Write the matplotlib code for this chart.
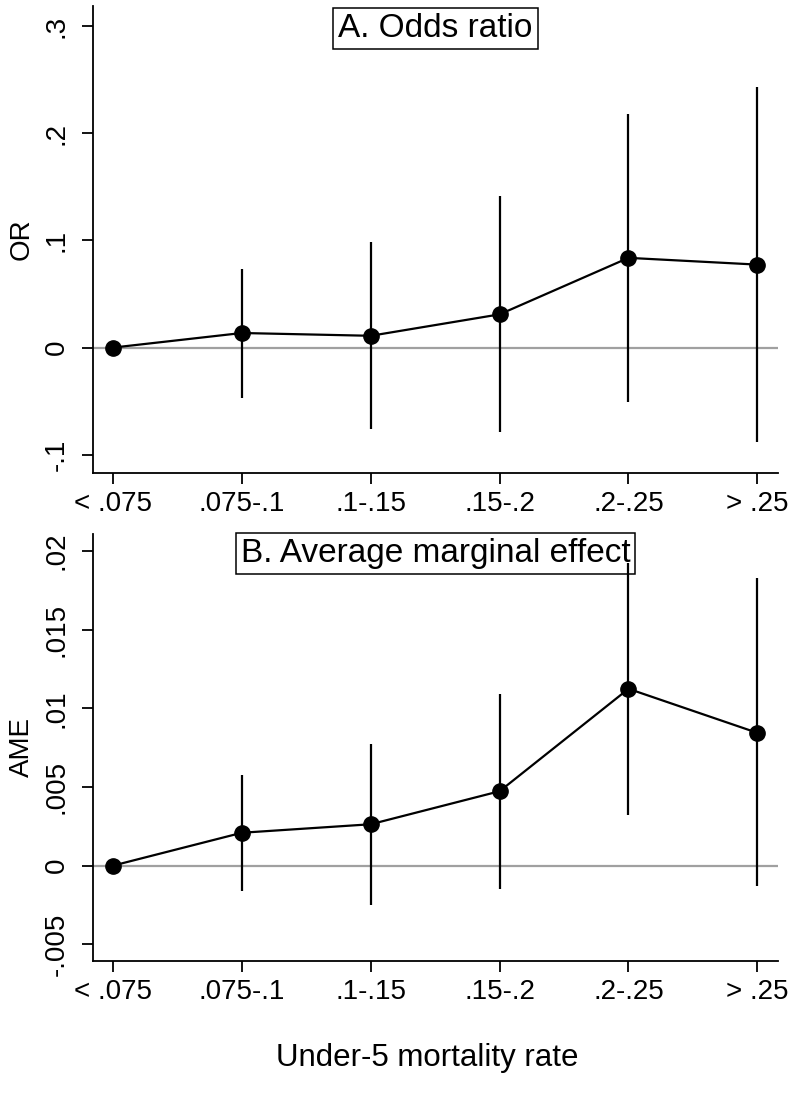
import numpy as np
import matplotlib
matplotlib.use("Agg")
import matplotlib.pyplot as plt

plt.rcParams['font.family'] = ['Liberation Sans', 'DejaVu Sans']

# categories of under-5 mortality rate
groups = ['< .075', '.075-.1', '.1-.15', '.15-.2', '.2-.25', '> .25']

# panel A: odds ratio estimates with 95% CI
or_est = [0.0, 0.0136, 0.011, 0.031, 0.0837, 0.0774]
or_lo = [0.0, -0.0467, -0.0758, -0.079, -0.051, -0.0884]
or_hi = [0.0, 0.0733, 0.0985, 0.141, 0.218, 0.243]
or_ticks = [-0.1, 0, 0.1, 0.2, 0.3]
or_ticklabels = ['-.1', '0', '.1', '.2', '.3']

# panel B: average marginal effect with 95% CI
ame_est = [0.0, 0.00209, 0.00263, 0.00473, 0.01124, 0.00844]
ame_lo = [0.0, -0.0016, -0.0025, -0.00149, 0.00322, -0.00132]
ame_hi = [0.0, 0.00576, 0.00775, 0.01094, 0.01923, 0.01826]
ame_ticks = [-0.005, 0, 0.005, 0.01, 0.015, 0.02]
ame_ticklabels = ['-.005', '0', '.005', '.01', '.015', '.02']

fig = plt.figure(figsize=(7.95, 10.99), dpi=100)
ax1 = fig.add_axes([0.117, 0.5696, 0.8616, 0.4249])
ax2 = fig.add_axes([0.117, 0.1256, 0.8616, 0.3885])

x = np.arange(1, len(groups) + 1)


def draw_panel(ax, est, lo, hi, ylim, ticks, ticklabels, ylabel, title, title_y):
    ax.axhline(0, color='#a0a0a0', lw=1.6, zorder=1)
    ax.vlines(x, lo, hi, color='black', lw=1.6, zorder=3)
    ax.plot(x, est, color='black', lw=1.6, marker='o', markersize=11, zorder=4)
    ax.set_xlim(0.845, 6.16)
    ax.set_ylim(*ylim)
    ax.set_xticks(x)
    ax.set_xticklabels(groups, fontsize=20)
    ax.set_yticks(ticks)
    ax.set_yticklabels(ticklabels, fontsize=20, rotation=90, va='center')
    ax.tick_params(axis='both', length=8, width=1.3, color='black')
    ax.tick_params(axis='x', pad=5)
    ax.tick_params(axis='y', pad=9)
    for side in ['top', 'right']:
        ax.spines[side].set_visible(False)
    for side in ['left', 'bottom']:
        ax.spines[side].set_linewidth(1.3)
    ax.set_ylabel(ylabel, fontsize=20)
    ax.yaxis.set_label_coords(-0.085, 0.5)
    ax.text(0.5, title_y, title, transform=ax.transAxes, ha='center', va='center',
            fontsize=24, zorder=2,
            bbox=dict(boxstyle='square,pad=0.15', fc='white', ec='black', lw=1.1))


draw_panel(ax1, or_est, or_lo, or_hi, (-0.117, 0.3186), or_ticks, or_ticklabels,
           'OR', 'A. Odds ratio', 0.951)
draw_panel(ax2, ame_est, ame_lo, ame_hi, (-0.00606, 0.02108), ame_ticks, ame_ticklabels,
           'AME', 'B. Average marginal effect', 0.9555)

fig.text(0.538, 1 - 1058 / 1099, 'Under-5 mortality rate', ha='center', va='center', fontsize=22.5)

fig.savefig('out.png', dpi=100)
